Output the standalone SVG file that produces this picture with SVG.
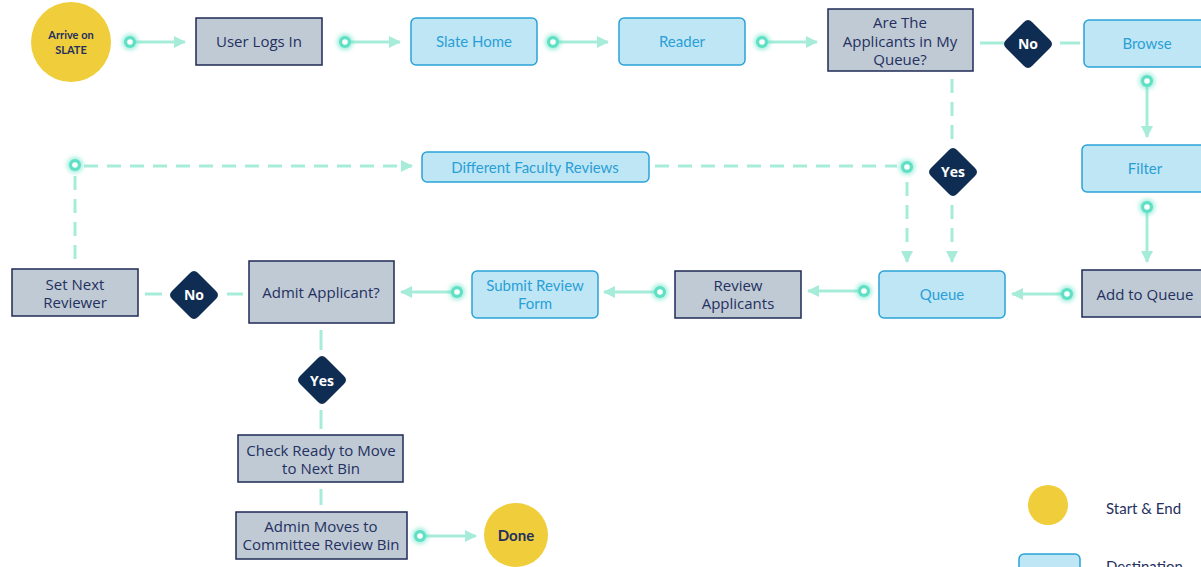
<svg xmlns="http://www.w3.org/2000/svg" width="1201" height="567" viewBox="0 0 1201 567">
<style>
.gray{fill:#bfcad5;stroke:#1f2a55;stroke-width:1.5}
.blue{fill:#bfe6f5;stroke:#2ba2d8;stroke-width:1.5}
.tg{font-family:"Open Sans",sans-serif;font-size:15px;fill:#253060;text-anchor:middle}
.tb{font-family:Lato,sans-serif;font-size:15px;fill:#2a9fd6;text-anchor:middle}
.sol{fill:none;stroke:#a6ecd9;stroke-width:3}
.dash{fill:none;stroke:#a6ecd9;stroke-width:3;stroke-dasharray:14 9}
.dia{fill:#0f2d52}
.dt{font-family:"Open Sans",sans-serif;font-weight:bold;font-size:14px;fill:#ffffff;text-anchor:middle}
.start{fill:#f0cd3a}
.st{font-family:Lato,sans-serif;font-weight:bold;fill:#253060;text-anchor:middle}
</style>
<defs>
<marker id="ah" viewBox="0 0 12 12" refX="11" refY="6" markerWidth="12" markerHeight="12" markerUnits="userSpaceOnUse" orient="auto">
<path d="M0,0 L12,6 L0,12 Z" fill="#a6ecd9"/>
</marker>
<filter id="glow" x="-1" y="-1" width="3" height="3"><feGaussianBlur stdDeviation="2"/></filter>
<g id="dot">
<circle r="8" fill="#5fe3c6" opacity="0.6" filter="url(#glow)"/>
<circle r="6" fill="#5fe0c4"/>
<circle r="2.8" fill="#ffffff"/>
</g>
<path id="dm" d="M0,-24 Q2,-24 4,-22 L22,-4 Q24,-2 24,0 Q24,2 22,4 L4,22 Q2,24 0,24 Q-2,24 -4,22 L-22,4 Q-24,2 -24,0 Q-24,-2 -22,-4 L-4,-22 Q-2,-24 0,-24 Z"/>
</defs>
<rect width="1201" height="567" fill="#ffffff"/>

<g id="connectors">
<line class="sol" x1="130" y1="42" x2="185" y2="42" marker-end="url(#ah)"/>
<line class="sol" x1="345" y1="42" x2="400" y2="42" marker-end="url(#ah)"/>
<line class="sol" x1="553" y1="42" x2="608" y2="42" marker-end="url(#ah)"/>
<line class="sol" x1="762" y1="42" x2="817" y2="42" marker-end="url(#ah)"/>
<line class="dash" x1="980" y1="43" x2="1004" y2="43" style="stroke-dasharray:none"/>
<line class="dash" x1="1060" y1="43" x2="1080" y2="43" style="stroke-dasharray:none"/>
<line class="sol" x1="1147" y1="81" x2="1147" y2="137" marker-end="url(#ah)"/>
<line class="sol" x1="1147" y1="207" x2="1147" y2="262" marker-end="url(#ah)"/>
<line class="sol" x1="1067" y1="294" x2="1012" y2="294" marker-end="url(#ah)"/>
<line class="sol" x1="864" y1="291" x2="808" y2="291" marker-end="url(#ah)"/>
<line class="sol" x1="660" y1="292" x2="604" y2="292" marker-end="url(#ah)"/>
<line class="sol" x1="457" y1="292" x2="401" y2="292" marker-end="url(#ah)"/>
<line class="dash" x1="952" y1="79" x2="952" y2="145"/>
<line class="dash" x1="952" y1="205" x2="952" y2="262" marker-end="url(#ah)"/>
<line class="dash" x1="907" y1="182" x2="907" y2="262" marker-end="url(#ah)"/>
<line class="dash" x1="655" y1="166" x2="897" y2="166"/>
<line class="dash" x1="84" y1="166" x2="412" y2="166" marker-end="url(#ah)"/>
<line class="dash" x1="75" y1="176" x2="75" y2="264"/>
<line class="dash" x1="145" y1="294" x2="162" y2="294" style="stroke-dasharray:none"/>
<line class="dash" x1="227" y1="294" x2="243" y2="294" style="stroke-dasharray:none"/>
<line class="dash" x1="321" y1="330" x2="321" y2="350" style="stroke-dasharray:none"/>
<line class="dash" x1="321" y1="410" x2="321" y2="429" style="stroke-dasharray:none"/>
<line class="dash" x1="321" y1="489" x2="321" y2="505" style="stroke-dasharray:none"/>
<line class="sol" x1="420" y1="536" x2="476" y2="536" marker-end="url(#ah)"/>
<use href="#dot" x="130" y="42"/>
<use href="#dot" x="345" y="42"/>
<use href="#dot" x="553" y="42"/>
<use href="#dot" x="762" y="42"/>
<use href="#dot" x="1147" y="81"/>
<use href="#dot" x="1147" y="207"/>
<use href="#dot" x="1067" y="294"/>
<use href="#dot" x="864" y="291"/>
<use href="#dot" x="660" y="292"/>
<use href="#dot" x="457" y="292"/>
<use href="#dot" x="907" y="167"/>
<use href="#dot" x="75" y="165"/>
<use href="#dot" x="420" y="536"/>
</g>

<g id="arrive">
<circle class="start" cx="71" cy="42" r="40"/>
<text class="st" x="71" y="39" font-size="11">Arrive on</text>
<text class="st" x="71" y="54" font-size="11">SLATE</text>
</g>
<g id="user-logs-in">
<rect class="gray" x="196" y="18" width="126" height="47"/>
<text class="tg" x="259" y="47">User Logs In</text>
</g>
<g id="slate-home">
<rect class="blue" x="411" y="18" width="126" height="47" rx="5"/>
<text class="tb" x="474" y="47">Slate Home</text>
</g>
<g id="reader">
<rect class="blue" x="619" y="18" width="126" height="47" rx="5"/>
<text class="tb" x="682" y="47">Reader</text>
</g>
<g id="in-queue">
<rect class="gray" x="828" y="9" width="145" height="62"/>
<text class="tg" x="900" y="28">Are The</text>
<text class="tg" x="900" y="47">Applicants in My</text>
<text class="tg" x="900" y="65">Queue?</text>
</g>
<g id="no1">
<use href="#dm" class="dia" x="1028" y="44"/>
<text class="dt" x="1028" y="49">No</text>
</g>
<g id="browse">
<rect class="blue" x="1084" y="20" width="130" height="47" rx="5"/>
<text class="tb" x="1147" y="49">Browse</text>
</g>
<g id="filter">
<rect class="blue" x="1082" y="145" width="130" height="47" rx="5"/>
<text class="tb" x="1145" y="174">Filter</text>
</g>
<g id="add-to-queue">
<rect class="gray" x="1082" y="270" width="130" height="47"/>
<text class="tg" x="1145" y="300">Add to Queue</text>
</g>
<g id="yes1">
<use href="#dm" class="dia" x="953" y="172"/>
<text class="dt" x="953" y="177">Yes</text>
</g>
<g id="faculty">
<rect class="blue" x="422" y="152" width="227" height="30" rx="5"/>
<text class="tb" x="535" y="173">Different Faculty Reviews</text>
</g>
<g id="queue">
<rect class="blue" x="879" y="271" width="126" height="47" rx="5"/>
<text class="tb" x="942" y="300">Queue</text>
</g>
<g id="review-applicants">
<rect class="gray" x="675" y="271" width="126" height="47"/>
<text class="tg" x="738" y="291">Review</text>
<text class="tg" x="738" y="309">Applicants</text>
</g>
<g id="submit-review">
<rect class="blue" x="472" y="271" width="126" height="47" rx="5"/>
<text class="tb" x="535" y="291">Submit Review</text>
<text class="tb" x="535" y="309">Form</text>
</g>
<g id="admit">
<rect class="gray" x="249" y="261" width="145" height="62"/>
<text class="tg" x="321" y="298">Admit Applicant?</text>
</g>
<g id="no2">
<use href="#dm" class="dia" x="194" y="295"/>
<text class="dt" x="194" y="300">No</text>
</g>
<g id="set-next">
<rect class="gray" x="12" y="269" width="126" height="47"/>
<text class="tg" x="75" y="290">Set Next</text>
<text class="tg" x="75" y="308">Reviewer</text>
</g>
<g id="yes2">
<use href="#dm" class="dia" x="322" y="380"/>
<text class="dt" x="322" y="386">Yes</text>
</g>
<g id="check-ready">
<rect class="gray" x="238" y="435" width="165" height="47"/>
<text class="tg" x="321" y="456">Check Ready to Move</text>
<text class="tg" x="321" y="474">to Next Bin</text>
</g>
<g id="admin-moves">
<rect class="gray" x="236" y="512" width="171" height="47"/>
<text class="tg" x="321" y="532">Admin Moves to</text>
<text class="tg" x="321" y="550">Committee Review Bin</text>
</g>
<g id="done">
<circle class="start" cx="516" cy="535" r="32"/>
<text class="st" x="516" y="541" font-size="15">Done</text>
</g>
<g id="legend">
<circle class="start" cx="1048" cy="505" r="20"/>
<text x="1106" y="514" font-family="Lato,sans-serif" font-size="15" fill="#253060">Start &amp; End</text>
<rect class="blue" x="1019" y="554" width="61" height="24" rx="5"/>
<text x="1106" y="572" font-family="Lato,sans-serif" font-size="15" fill="#253060">Destination</text>
</g>
</svg>
